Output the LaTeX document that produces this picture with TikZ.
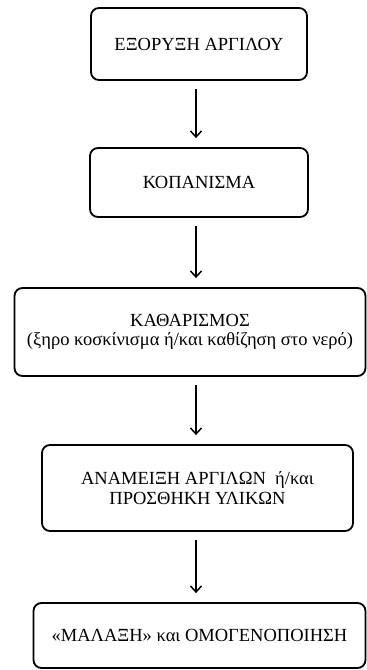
\documentclass[tikz,border=0pt]{standalone}
\usepackage{fontspec}
\setmainfont{Liberation Serif}
\usetikzlibrary{arrows.meta}
\begin{document}
\begin{tikzpicture}[x=1pt,y=-1pt,
  box/.style={draw=black, line width=1.8pt, rounded corners=8pt, inner sep=0pt,
    align=center, font=\fontsize{18.5}{19.5}\selectfont},
  arr/.style={line width=1.5pt, -{Straight Barb[length=6pt,width=11pt]},
    shorten <=8pt, shorten >=9pt}]
\useasboundingbox (0,0) rectangle (367,670);
\node[box, minimum width=216pt, minimum height=72pt] (b1) at (199,44) {ΕΞΟΡΥΞΗ ΑΡΓΙΛΟΥ};
\node[box, minimum width=218pt, minimum height=69pt] (b2) at (199,182.5) {ΚΟΠΑΝΙΣΜΑ};
\node[box, minimum width=351pt, minimum height=88pt] (b3) at (190,332) {ΚΑΘΑΡΙΣΜΟΣ\\(ξηρο κοσκίνισμα ή/και καθίζηση στο νερό)};
\node[box, minimum width=311pt, minimum height=86pt] (b4) at (197.5,488) {ΑΝΑΜΕΙΞΗ ΑΡΓΙΛΩΝ\ \ ή/και\\ΠΡΟΣΘΗΚΗ ΥΛΙΚΩΝ};
\node[box, minimum width=332pt, minimum height=65pt] (b5) at (199.5,635.5) {«ΜΑΛΑΞΗ» και ΟΜΟΓΕΝΟΠΟΙΗΣΗ};
\coordinate (ax) at (196,0);
\draw[arr] (b1.south -| ax) -- (b2.north -| ax);
\draw[arr] (b2.south -| ax) -- (b3.north -| ax);
\draw[arr] (b3.south -| ax) -- (b4.north -| ax);
\draw[arr] (b4.south -| ax) -- (b5.north -| ax);
\end{tikzpicture}
\end{document}
